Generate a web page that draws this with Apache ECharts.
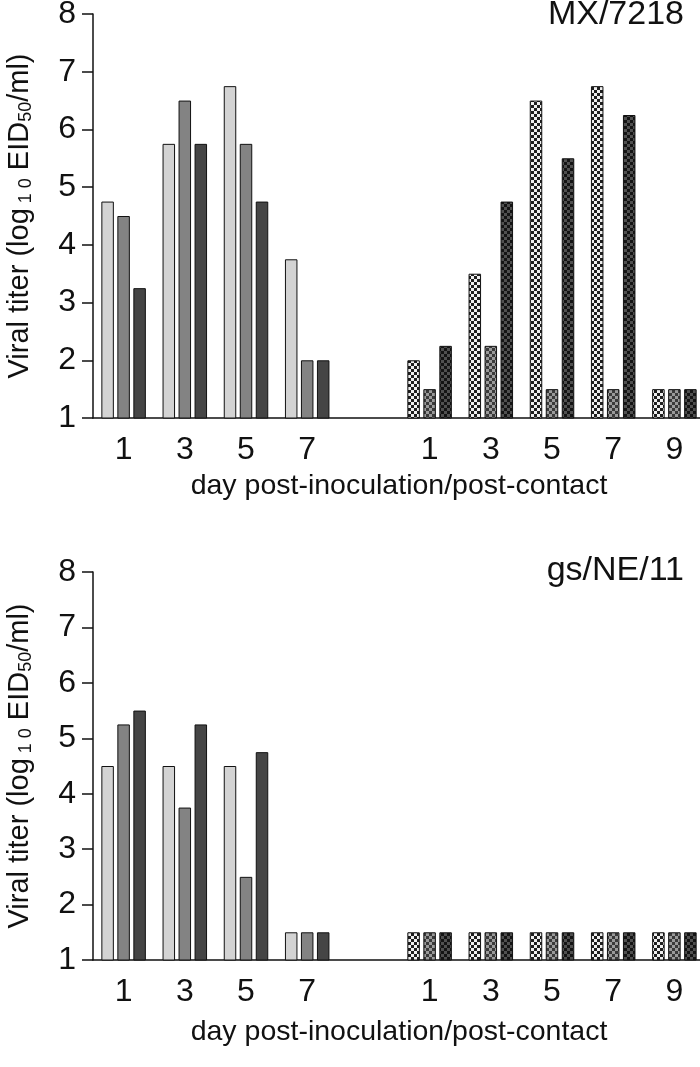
<!DOCTYPE html>
<html>
<head>
<meta charset="utf-8">
<style>
html,body{margin:0;padding:0;background:#fff;}
#chart{width:700px;height:1067px;}
</style>
<script src="https://cdn.jsdelivr.net/npm/echarts@6/dist/echarts.min.js"></script>
</head>
<body>
<div id="chart"></div>
<script>
// ---- data ----
const categories = ['1', '3', '5', '7', '', '1', '3', '5', '7', '9'];
const contactStart = 5; // index from which bars are post-contact (checkered)
const yMin = 1, yMax = 8, yStep = 1;

const titleTop = 'MX/7218';
const titleBottom = 'gs/NE/11';

const mxLight = [4.75, 5.75, 6.75, 3.75, null, 2.0, 3.5, 6.5, 6.75, 1.5];
const mxMid   = [4.5, 6.5, 5.75, 2.0, null, 1.5, 2.25, 1.5, 1.5, 1.5];
const mxDark  = [3.25, 5.75, 4.75, 2.0, null, 2.25, 4.75, 5.5, 6.25, 1.5];

const neLight = [4.5, 4.5, 4.5, 1.5, null, 1.5, 1.5, 1.5, 1.5, 1.5];
const neMid   = [5.25, 3.75, 2.5, 1.5, null, 1.5, 1.5, 1.5, 1.5, 1.5];
const neDark  = [5.5, 5.25, 4.75, 1.5, null, 1.5, 1.5, 1.5, 1.5, 1.5];

const xName = 'day post-inoculation/post-contact';

// ---- styles ----
const FONT = '"Liberation Sans", Arial, Helvetica, sans-serif';
const solid = ['#d3d3d3', '#838383', '#454545'];

function checker(a, b, cell) {
  const c = document.createElement('canvas');
  c.width = cell * 2; c.height = cell * 2;
  const ctx = c.getContext('2d');
  ctx.fillStyle = a; ctx.fillRect(0, 0, cell * 2, cell * 2);
  ctx.fillStyle = b;
  ctx.fillRect(0, 0, cell, cell);
  ctx.fillRect(cell, cell, cell, cell);
  return { image: c, repeat: 'repeat' };
}
const patterns = [
  checker('#efefef', '#1e1e1e', 3),
  checker('#9a9a9a', '#3a3a3a', 3),
  checker('#505050', '#141414', 3)
];

function seriesData(values, k) {
  return values.map((v, i) => {
    if (v === null) return null;
    return {
      value: v,
      itemStyle: { color: i >= contactStart ? patterns[k] : solid[k] }
    };
  });
}

function barSeries(values, k, idx) {
  return {
    type: 'bar',
    xAxisIndex: idx,
    yAxisIndex: idx,
    barWidth: 12.5,
    barGap: '28%',
    data: seriesData(values, k),
    itemStyle: { borderColor: '#111', borderWidth: 1 },
    silent: true
  };
}

const yName = '{n|Viral titer (log}{s| 1 0}{n| EID}{s|50}{n|/ml)}';

function xAxis(idx, gap) {
  return {
    type: 'category',
    gridIndex: idx,
    data: categories,
    axisLine: { onZero: false, lineStyle: { color: '#111', width: 1.5 } },
    axisTick: { alignWithLabel: true, length: 9, lineStyle: { color: '#111', width: 1.5 } },
    axisLabel: { color: '#111', fontSize: 32, fontFamily: FONT, margin: 16, interval: 0 },
    name: xName,
    nameLocation: 'middle',
    nameGap: gap,
    nameTextStyle: { color: '#111', fontSize: 28.5, fontFamily: FONT }
  };
}
function yAxis(idx) {
  return {
    type: 'value',
    gridIndex: idx,
    min: yMin, max: yMax, interval: yStep,
    splitLine: { show: false },
    axisLine: { show: true, lineStyle: { color: '#111', width: 1.5 } },
    axisTick: { show: true, length: 11, lineStyle: { color: '#111', width: 1.5 } },
    axisLabel: { color: '#111', fontSize: 32, fontFamily: FONT, margin: 17 },
    name: yName,
    nameLocation: 'middle',
    nameRotate: 90,
    nameGap: 56,
    nameTextStyle: {
      color: '#111',
      rich: {
        n: { fontSize: 29, fontFamily: FONT, color: '#111', lineHeight: 34, verticalAlign: 'middle' },
        s: { fontSize: 18, fontFamily: FONT, color: '#111', verticalAlign: 'middle', padding: [12, 0, 0, 0] }
      }
    }
  };
}

const chart = echarts.init(document.getElementById('chart'), null, { renderer: 'canvas' });
chart.setOption({
  animation: false,
  backgroundColor: '#fff',
  title: [
    { text: titleTop, right: 16, top: -2, padding: 0,
      textStyle: { fontSize: 34, fontWeight: 'normal', color: '#111', fontFamily: FONT } },
    { text: titleBottom, right: 16, top: 554, padding: 0,
      textStyle: { fontSize: 34, fontWeight: 'normal', color: '#111', fontFamily: FONT } }
  ],
  grid: [
    { left: 93, top: 14, width: 612, height: 404, outerBoundsMode: 'none', containLabel: false },
    { left: 93, top: 572, width: 612, height: 388, outerBoundsMode: 'none', containLabel: false }
  ],
  xAxis: [xAxis(0, 54), xAxis(1, 58)],
  yAxis: [yAxis(0), yAxis(1)],
  series: [
    barSeries(mxLight, 0, 0),
    barSeries(mxMid, 1, 0),
    barSeries(mxDark, 2, 0),
    barSeries(neLight, 0, 1),
    barSeries(neMid, 1, 1),
    barSeries(neDark, 2, 1)
  ]
});
</script>
</body>
</html>
